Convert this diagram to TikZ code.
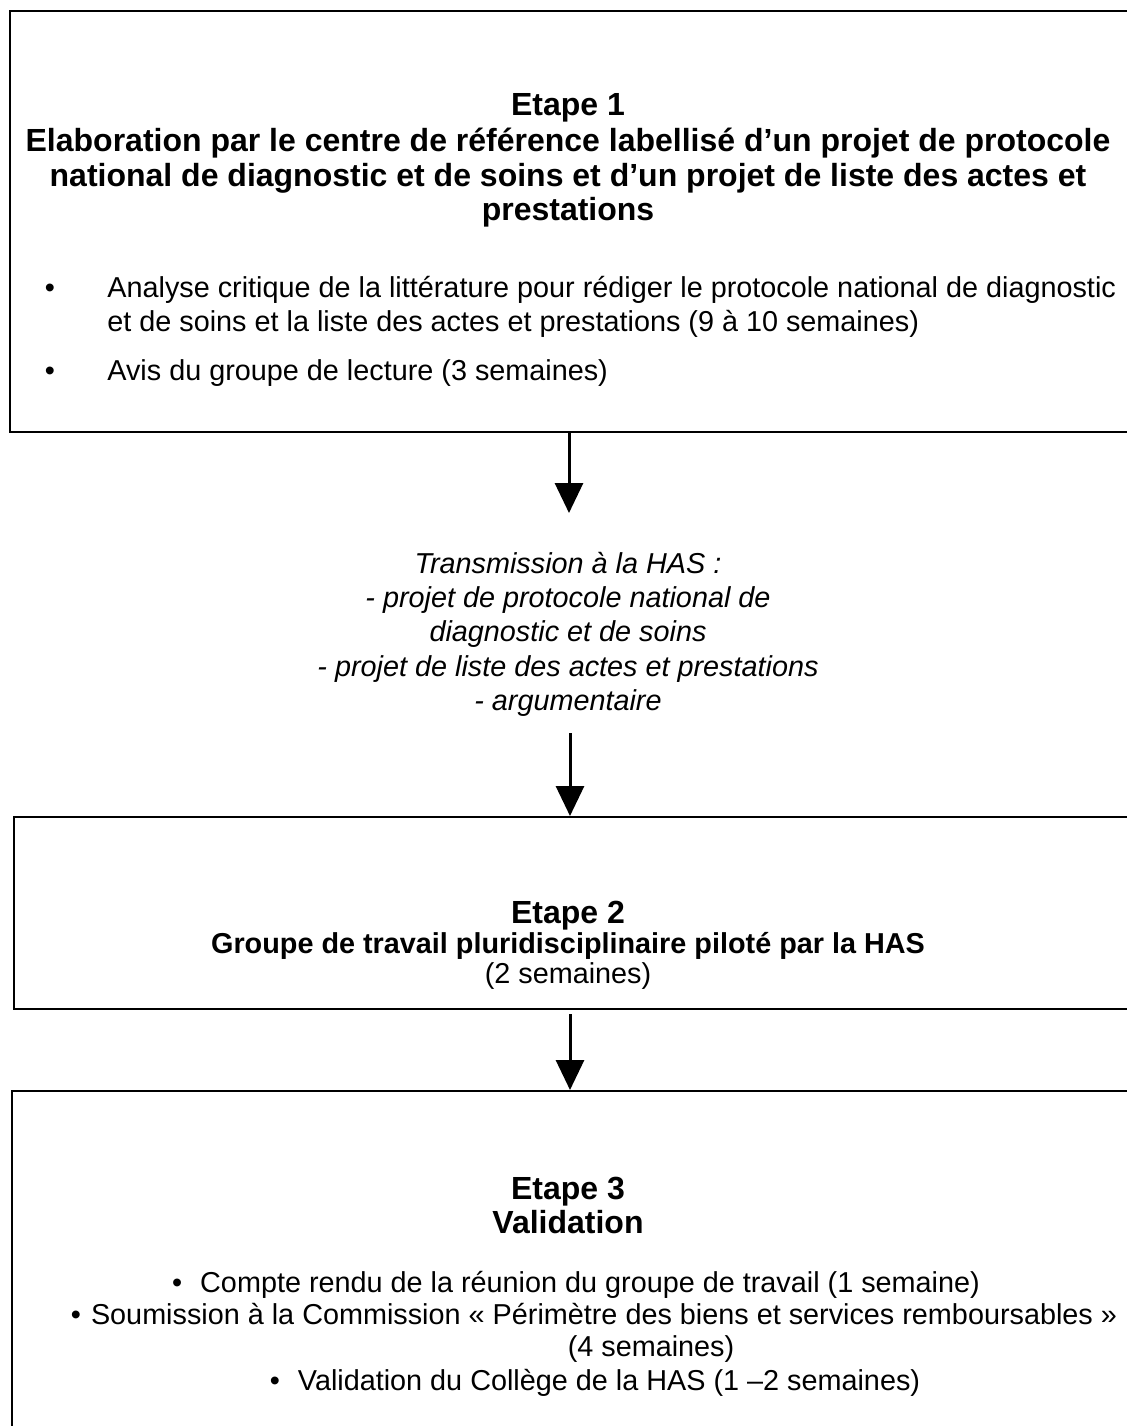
\documentclass[tikz,border=0pt]{standalone}
\usepackage{fontspec}
\setmainfont{Liberation Sans}
\usetikzlibrary{arrows.meta}
\begin{document}
\begin{tikzpicture}[x=0.5pt,y=-0.5pt,
  box/.style={draw=black, line width=1pt, anchor=north west, inner sep=0pt},
  arr/.style={line width=1.5pt, -{Triangle[width=14pt,length=15pt]}},
  ttl/.style={anchor=base, inner sep=0pt, font=\fontsize{16}{17}\selectfont\bfseries},
  txt/.style={anchor=base, inner sep=0pt, font=\fontsize{14.4}{17}\selectfont},
  txtw/.style={anchor=base west, inner sep=0pt, font=\fontsize{14.4}{17}\selectfont},
  itx/.style={anchor=base, inner sep=0pt, font=\fontsize{14.4}{17}\selectfont\itshape},
  bul/.style={anchor=base, inner sep=0pt, font=\fontsize{14.4}{17}\selectfont},
  sub/.style={anchor=base, inner sep=0pt, font=\fontsize{14.4}{17}\selectfont\bfseries}
]
\useasboundingbox[fill=white] (0,0) rectangle (1126,1426);

% boxes
\node[box, minimum width=570.5pt, minimum height=210.5pt] (box1) at (9,10) {};
\node[box, minimum width=570pt, minimum height=96pt] (box2) at (13,816) {};
\node[box, minimum width=570pt, minimum height=200pt] (box3) at (11,1090) {};

% box 1 text
\node[ttl] (e1) at (568,115) {Etape 1};
\node[ttl] (t1a) at (568,151) {Elaboration par le centre de référence labellisé d’un projet de protocole};
\node[ttl] (t1b) at (568,186) {national de diagnostic et de soins et d’un projet de liste des actes et};
\node[ttl] (t1c) at (568,220) {prestations};
\node[bul] (b1) at (50,297) {•};
\node[txtw] (l1a) at (107,297) {Analyse critique de la littérature pour rédiger le protocole national de diagnostic};
\node[txtw] (l1b) at (107,331) {et de soins et la liste des actes et prestations (9 à 10 semaines)};
\node[bul] (b2) at (50,380) {•};
\node[txtw] (l2) at (107,380) {Avis du groupe de lecture (3 semaines)};

% transmission text
\node[itx] (i1) at (568,573) {Transmission à la HAS :};
\node[itx] (i2) at (568,607) {- projet de protocole national de};
\node[itx] (i3) at (568,641) {diagnostic et de soins};
\node[itx] (i4) at (568,676) {- projet de liste des actes et prestations};
\node[itx] (i5) at (568,710) {- argumentaire};

% box 2 text
\node[ttl] (e2) at (568,923) {Etape 2};
\node[sub] (g2) at (568,953) {Groupe de travail pluridisciplinaire piloté par la HAS};
\node[txt] (s2) at (568,983) {(2 semaines)};

% box 3 text
\node[ttl] (e3) at (568,1199) {Etape 3};
\node[ttl] (v3) at (568,1233) {Validation};
\node[txt] (c1) at (576,1292) {•\hspace{9pt}Compte rendu de la réunion du groupe de travail (1 semaine)};
\node[txt] (c2) at (594,1324) {•\hspace{5pt}Soumission à la Commission « Périmètre des biens et services remboursables »};
\node[txt] (c3) at (651,1356) {(4 semaines)};
\node[txt] (c4) at (595,1390) {•\hspace{9pt}Validation du Collège de la HAS (1 –2 semaines)};

% arrows
\coordinate (a1) at (569,513);
\coordinate (a2) at (570,733);
\coordinate (a3) at (570,1014);
\draw[arr] (box1.south -| a1) -- (a1);
\draw[arr] (a2) -- (a2 |- box2.north);
\draw[arr] (a3) -- (a3 |- box3.north);
\end{tikzpicture}
\end{document}
